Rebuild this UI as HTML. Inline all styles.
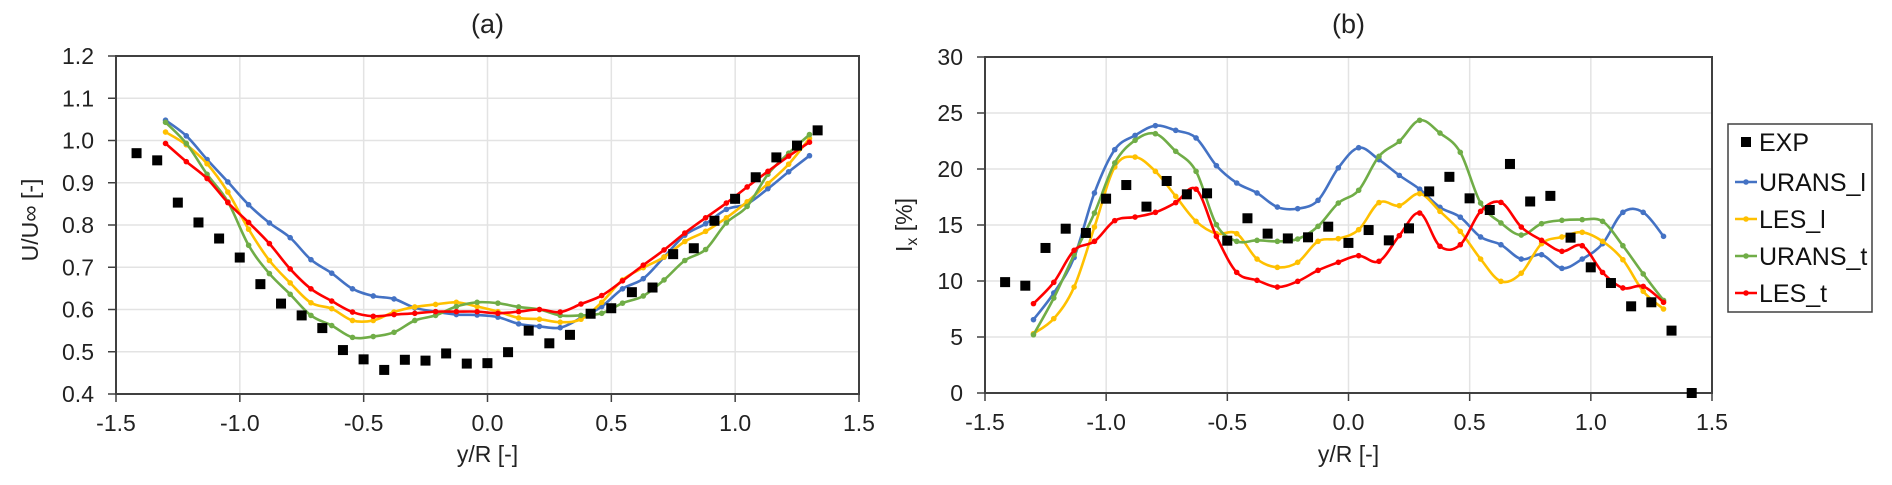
<!DOCTYPE html>
<html><head><meta charset="utf-8"><style>
html,body{margin:0;padding:0;background:#fff;}
svg{display:block;font-family:"Liberation Sans",Arial,sans-serif;}
</style></head><body>
<svg id="chart" width="1892" height="485" viewBox="0 0 1892 485" xmlns="http://www.w3.org/2000/svg"></svg>
<script>
// ---- Data ----
const expA = [0.97,0.953,0.853,0.806,0.768,0.723,0.66,0.614,0.586,0.556,0.504,0.482,0.457,0.481,0.479,0.496,0.472,0.473,0.499,0.55,0.52,0.54,0.59,0.603,0.641,0.652,0.731,0.745,0.81,0.862,0.913,0.96,0.988,1.024];
const uransLA = [1.048,1.011,0.955,0.902,0.848,0.805,0.77,0.718,0.686,0.649,0.632,0.625,0.604,0.595,0.588,0.587,0.582,0.566,0.56,0.557,0.58,0.607,0.649,0.673,0.724,0.776,0.803,0.837,0.85,0.886,0.926,0.964];
const lesLA = [1.02,0.99,0.945,0.878,0.79,0.716,0.663,0.616,0.602,0.574,0.574,0.594,0.606,0.612,0.617,0.607,0.595,0.58,0.577,0.57,0.577,0.617,0.67,0.699,0.724,0.761,0.785,0.817,0.855,0.898,0.944,1.005];
const uransTA = [1.043,0.993,0.92,0.855,0.752,0.685,0.636,0.586,0.562,0.534,0.536,0.546,0.574,0.586,0.607,0.617,0.615,0.606,0.6,0.586,0.586,0.591,0.615,0.632,0.67,0.716,0.742,0.805,0.844,0.92,0.97,1.014];
const lesTA = [0.993,0.95,0.91,0.853,0.806,0.756,0.696,0.649,0.62,0.594,0.584,0.588,0.591,0.595,0.595,0.595,0.591,0.595,0.6,0.594,0.613,0.633,0.668,0.705,0.741,0.781,0.817,0.852,0.89,0.927,0.963,0.996];
const expB = [9.9,9.58,12.95,14.67,14.29,17.35,18.57,16.64,18.93,17.74,17.83,13.6,15.6,14.23,13.8,13.9,14.85,13.4,14.55,13.63,14.7,18.0,19.3,17.38,16.34,20.45,17.1,17.6,13.87,11.22,9.82,7.74,8.1,5.57,0.0];
const uransLB = [6.55,8.93,12.1,17.86,21.73,23.0,23.87,23.45,22.77,20.3,18.75,17.86,16.6,16.46,17.2,20.1,21.9,20.83,19.43,18.2,16.58,15.7,13.93,13.24,11.96,12.35,11.13,11.96,13.33,16.13,16.13,13.99];
const lesLB = [5.3,6.64,9.46,14.82,20.18,21.07,19.79,17.56,15.33,14.23,14.23,11.96,11.22,11.67,13.54,13.78,14.58,17.0,16.73,17.8,16.22,14.43,11.96,9.97,10.7,13.33,13.93,14.35,13.54,11.9,9.08,7.5];
const uransTB = [5.2,8.48,12.35,16.07,20.54,22.56,23.15,21.58,19.79,15.03,13.54,13.63,13.54,13.75,14.88,16.96,18.1,21.13,22.47,24.35,23.21,21.49,16.96,15.18,14.1,15.12,15.42,15.48,15.33,13.15,10.63,8.27];
const lesTB = [7.98,9.88,12.74,13.54,15.39,15.71,16.13,17.0,18.2,13.99,10.77,10.06,9.46,9.97,10.95,11.67,12.26,11.76,14.05,16.07,13.1,13.24,16.22,17.02,14.82,13.63,12.65,13.15,10.77,9.38,9.52,8.1];
const xTicks = ["-1.5","-1.0","-0.5","0.0","0.5","1.0","1.5"];
const yTicksA = ["0.4","0.5","0.6","0.7","0.8","0.9","1.0","1.1","1.2"];
const yTicksB = ["0","5","10","15","20","25","30"];
const expStart = -1.417, expStep = 1/12;
const cfdStart = -1.3, cfdEnd = 1.3;
const seriesNames = ["URANS_l","LES_l","URANS_t","LES_t"];
const seriesColors = ["#4472C4","#FFC000","#70AD47","#FF0000"];

const NS = "http://www.w3.org/2000/svg";
const svg = document.getElementById('chart');
function mk(tag, attrs, parent){ const e=document.createElementNS(NS,tag); for(const k in attrs) e.setAttribute(k,attrs[k]); (parent||svg).appendChild(e); return e; }
function smoothPath(pts){
  let d = `M${pts[0][0]},${pts[0][1]}`;
  for(let i=0;i<pts.length-1;i++){
    const p0=pts[i-1]||pts[i], p1=pts[i], p2=pts[i+1], p3=pts[i+2]||p2;
    const t=0.17;
    d += ` C${p1[0]+(p2[0]-p0[0])*t},${p1[1]+(p2[1]-p0[1])*t} ${p2[0]-(p3[0]-p1[0])*t},${p2[1]-(p3[1]-p1[1])*t} ${p2[0]},${p2[1]}`;
  }
  return d;
}

function drawChart(cfg){
  const g = mk('g',{});
  
  
  const X = v => cfg.x0 + (v+1.5)/3*(cfg.x1-cfg.x0);
  const Y = v => cfg.y0 - (v-cfg.ymin)/(cfg.ymax-cfg.ymin)*(cfg.y0-cfg.y1);
  // grid
  cfg.yTicks.forEach((t,i)=>{
    const v = parseFloat(t), y=Y(v);
    if(i>0 && i<cfg.yTicks.length-1){ const l=mk('line',{x1:cfg.x0,x2:cfg.x1,y1:y,y2:y,stroke:'#e3e3e3','stroke-width':1.5},g);
        }
    mk('line',{x1:cfg.x0-8,x2:cfg.x0,y1:y,y2:y,stroke:'#404040','stroke-width':1.5},g);
    const tx=mk('text',{x:cfg.x0-22,y:y+8,'text-anchor':'end','font-size':23,fill:'#222'},g); tx.textContent=t;
     
  });
  xTicks.forEach((t,i)=>{
    const x=X(parseFloat(t));
    if(i>0 && i<xTicks.length-1){ const l=mk('line',{x1:x,x2:x,y1:cfg.y1,y2:cfg.y0,stroke:'#e3e3e3','stroke-width':1.5},g);
        }
    mk('line',{x1:x,x2:x,y1:cfg.y0,y2:cfg.y0+8,stroke:'#404040','stroke-width':1.5},g);
    const tx=mk('text',{x:x,y:cfg.y0+37,'text-anchor':'middle','font-size':23,fill:'#222'},g); tx.textContent=t;
     
  });
  const fr=mk('rect',{x:cfg.x0,y:cfg.y1,width:cfg.x1-cfg.x0,height:cfg.y0-cfg.y1,fill:'none',stroke:'#404040','stroke-width':2},g);
   
  // series
  const n = cfg.series[0].length;
  cfg.series.forEach((arr,si)=>{
    const pts = arr.map((v,i)=>[X(cfdStart+i*(cfdEnd-cfdStart)/(n-1)), Y(v)]);
    const p=mk('path',{d:smoothPath(pts),fill:'none',stroke:seriesColors[si],'stroke-width':2.6},g);
    
    
    pts.forEach(q=>{ mk('circle',{cx:q[0],cy:q[1],r:2.8,fill:seriesColors[si]},g); });
  });
  cfg.exp.forEach((v,k)=>{
    const r=mk('rect',{x:X(expStart+k*expStep)-5,y:Y(v)-5,width:10,height:10,fill:'#000'},g);
     
  });
  const tt=mk('text',{x:(cfg.x0+cfg.x1)/2,y:33,'text-anchor':'middle','font-size':27,fill:'#222'},g); tt.textContent=cfg.title;
   
  const xt=mk('text',{x:(cfg.x0+cfg.x1)/2,y:462,'text-anchor':'middle','font-size':23,fill:'#222'},g); xt.textContent='y/R [-]';
   
  return g;
}

drawChart({name:'chart-a',title:'(a)',x0:116,x1:859,y0:394,y1:56,ymin:0.4,ymax:1.2,yTicks:yTicksA,exp:expA,series:[uransLA,lesLA,uransTA,lesTA]});
drawChart({name:'chart-b',title:'(b)',x0:985,x1:1712,y0:393,y1:57,ymin:0,ymax:30,yTicks:yTicksB,exp:expB,series:[uransLB,lesLB,uransTB,lesTB]});

// y axis titles
const ya=mk('text',{x:0,y:0,'text-anchor':'middle','font-size':23,fill:'#222',transform:'translate(38,220) rotate(-90)'});
ya.textContent='U/U∞ [-]';
 
const yb=mk('text',{x:0,y:0,'text-anchor':'middle','font-size':23,fill:'#222',transform:'translate(912,225) rotate(-90)'});
yb.innerHTML='I<tspan font-size="16" dy="5">x</tspan><tspan dy="-5"> [%]</tspan>';
 

// legend
const lg=mk('g',{});
 
mk('rect',{x:1728,y:124,width:144,height:188,fill:'#fff',stroke:'#404040','stroke-width':1.5},lg);
const ly=[142,182,219,256,293];
const er=mk('rect',{x:1741,y:ly[0]-5,width:10,height:10,fill:'#000'},lg);
 
const et=mk('text',{x:1759,y:ly[0]+9,'font-size':25,fill:'#111'},lg); et.textContent='EXP';
 
seriesNames.forEach((nm,i)=>{
  const y=ly[i+1];
  mk('line',{x1:1735,x2:1757,y1:y,y2:y,stroke:seriesColors[i],'stroke-width':2.6},lg);
  mk('circle',{cx:1746,cy:y,r:2.8,fill:seriesColors[i]},lg);
  const t=mk('text',{x:1759,y:y+9,'font-size':25,fill:'#111'},lg); t.textContent=nm;
   
});
</script>
</body></html>
